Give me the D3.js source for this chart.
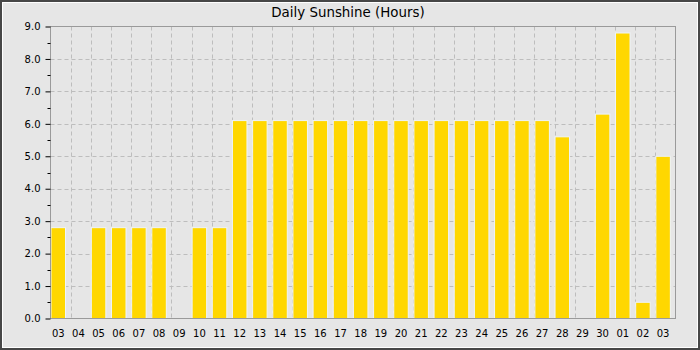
<!DOCTYPE html>
<html>
<head>
<meta charset="utf-8">
<script src="https://cdn.jsdelivr.net/npm/d3@7"></script>
<style>
  html, body { margin: 0; padding: 0; background: #fff; }
  svg { display: block; font-family: "DejaVu Sans", sans-serif; }
</style>
</head>
<body>
<svg id="chart" width="700" height="350"></svg>
<script>
const title = "Daily Sunshine (Hours)";
const days = ["03","04","05","06","07","08","09","10","11","12","13","14","15","16","17","18","19","20","21","22","23","24","25","26","27","28","29","30","01","02","03"];
const sunshine = [2.8,0,2.8,2.8,2.8,2.8,0,2.8,2.8,6.1,6.1,6.1,6.1,6.1,6.1,6.1,6.1,6.1,6.1,6.1,6.1,6.1,6.1,6.1,6.1,5.6,0,6.3,8.8,0.5,5.0];
const yTicks = [0,1,2,3,4,5,6,7,8,9];
const yMinorTicks = [0.5,1.5,2.5,3.5,4.5,5.5,6.5,7.5,8.5];

const svg = d3.select("#chart");
const W = 700, H = 350;
const plot = { left: 50.5, right: 675.5, top: 26.5, bottom: 318.5 };

// outer frame
svg.append("rect").attr("x",0).attr("y",0).attr("width",W).attr("height",H).attr("fill","#474747");
svg.append("rect").attr("x",2).attr("y",2).attr("width",696).attr("height",346).attr("fill","#ffffff");
svg.append("rect").attr("x",3).attr("y",3).attr("width",694).attr("height",344).attr("fill","#e6e6e6");

const idx = days.map((d,i)=>i);
const x = d3.scaleBand().domain(idx).range([plot.left, plot.right]).padding(0);
const y = d3.scaleLinear().domain([0,9]).range([plot.bottom, plot.top]);

// grid
const g = svg.append("g");
g.selectAll("line.hg").data(yTicks.slice(1,-1)).join("line")
  .attr("x1",plot.left).attr("x2",plot.right)
  .attr("y1",d=>Math.round(y(d))+0.5).attr("y2",d=>Math.round(y(d))+0.5)
  .attr("stroke","#bdbdbd").attr("stroke-dasharray","4,3");
g.selectAll("line.vg").data(idx.slice(1)).join("line")
  .attr("x1",d=>Math.round(x(d))+0.5).attr("x2",d=>Math.round(x(d))+0.5)
  .attr("y1",plot.top).attr("y2",plot.bottom)
  .attr("stroke","#bdbdbd").attr("stroke-dasharray","4,3");

// bars
const bw = x.bandwidth()*0.72;
svg.append("g").selectAll("rect").data(sunshine).join("rect")
  .attr("x",(d,i)=>x(i)+0.5)
  .attr("y",d=>y(d))
  .attr("width",bw)
  .attr("height",d=>Math.max(0,plot.bottom-y(d)))
  .attr("fill","#ffd700")
  .attr("stroke",d=>d>0?"#eef4fb":"none")
  .attr("stroke-width",1);

// frame
svg.append("rect").attr("x",plot.left).attr("y",plot.top)
  .attr("width",plot.right-plot.left).attr("height",plot.bottom-plot.top)
  .attr("fill","none").attr("stroke","#9a9a9a");

// y axis
const ya = svg.append("g").attr("transform",`translate(${plot.left},0)`)
  .call(d3.axisLeft(y).tickValues(yTicks).tickFormat(d3.format(".1f")).tickSize(5).tickPadding(5));
ya.select(".domain").remove();
ya.selectAll(".tick line").attr("stroke","#000");
ya.selectAll(".tick text").attr("font-size",10).attr("fill","#000").attr("font-family","DejaVu Sans");
ya.append("g").selectAll("line").data(yMinorTicks).join("line")
  .attr("x1",-3).attr("x2",0)
  .attr("y1",d=>Math.round(y(d))+0.5).attr("y2",d=>Math.round(y(d))+0.5)
  .attr("stroke","#000");

// x labels
svg.append("g").selectAll("text").data(days).join("text")
  .attr("x",(d,i)=>x(i)+0.5+bw/2)
  .attr("y",336.5)
  .attr("text-anchor","middle")
  .attr("font-size",10)
  .attr("fill","#000")
  .text(d=>d);

// title
svg.append("text").attr("x",348).attr("y",16.5).attr("text-anchor","middle")
  .attr("font-size",13.4).attr("fill","#000").text(title);
</script>
</body>
</html>
